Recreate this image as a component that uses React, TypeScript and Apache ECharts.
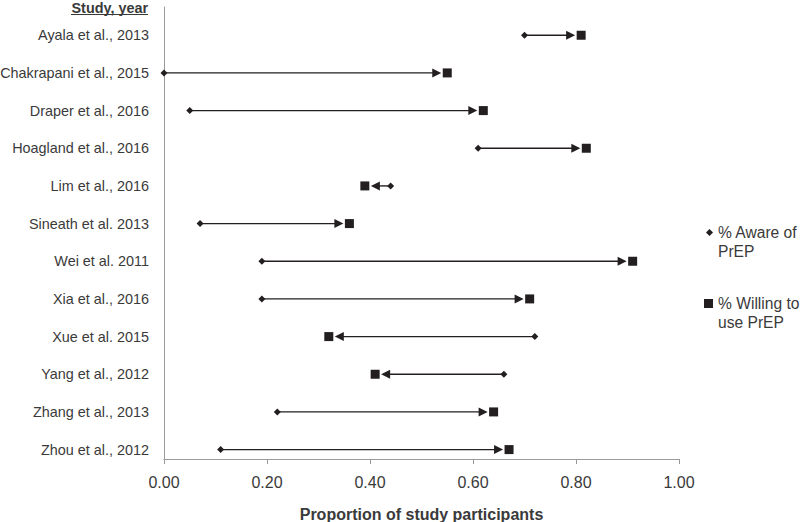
import React, { useEffect, useRef } from "react";
import * as echarts from "echarts";

const studies = [
  "Ayala et al., 2013",
  "Chakrapani et al., 2015",
  "Draper et al., 2016",
  "Hoagland et al., 2016",
  "Lim et al., 2016",
  "Sineath et al. 2013",
  "Wei et al. 2011",
  "Xia et al., 2016",
  "Xue et al. 2015",
  "Yang et al., 2012",
  "Zhang et al., 2013",
  "Zhou et al., 2012",
];
const aware = [0.70, 0.00, 0.05, 0.61, 0.44, 0.07, 0.19, 0.19, 0.72, 0.66, 0.22, 0.11];
const willing = [0.81, 0.55, 0.62, 0.82, 0.39, 0.36, 0.91, 0.71, 0.32, 0.41, 0.64, 0.67];
const awareName = "% Aware of PrEP";
const willingName = "% Willing to use PrEP";
const xTitle = "Proportion of study participants";
const yHeader = "Study, year";

const FONT = '"Liberation Sans", Arial, Helvetica, sans-serif';
const INK = "#231f20";
const TXT = "#3a3a3a";
const AXIS = "#9a9a9a";

export default function App() {
  const ref = useRef<HTMLDivElement>(null);
  useEffect(() => {
    if (!ref.current) return;
    const chart = echarts.init(ref.current, null, { renderer: "svg" });
    const idx = studies.map((_, i) => i);
    chart.setOption({
      animation: false,
      backgroundColor: "#ffffff",
      textStyle: { fontFamily: FONT },
      grid: { left: 164, right: 121, top: 7, bottom: 63, containLabel: false, outerBoundsMode: "none" },
      xAxis: {
        type: "value",
        min: 0,
        max: 1,
        interval: 0.2,
        axisLine: { show: true, onZero: false, lineStyle: { color: AXIS, width: 1 } },
        axisTick: { show: true, length: 5, lineStyle: { color: AXIS } },
        splitLine: { show: false },
        axisLabel: {
          margin: 15,
          fontSize: 16,
          color: TXT,
          fontFamily: FONT,
          formatter: (v: number) => v.toFixed(2),
        },
        name: xTitle,
        nameLocation: "middle",
        nameGap: 47,
        nameTextStyle: { fontSize: 16, fontWeight: "bold", color: TXT, fontFamily: FONT },
      },
      yAxis: {
        type: "value",
        inverse: true,
        min: -0.75,
        max: 11.25,
        axisLine: { show: true, onZero: false, lineStyle: { color: AXIS, width: 1 } },
        axisTick: { show: false },
        splitLine: { show: false },
        axisLabel: {
          customValues: idx,
          margin: 15,
          fontSize: 14.4,
          color: TXT,
          fontFamily: FONT,
          formatter: (v: number) => studies[Math.round(v)] ?? "",
        },
      },
      legend: [
        {
          data: [{ name: awareName, icon: "diamond" }],
          orient: "vertical",
          left: 701,
          top: 199,
          itemWidth: 7,
          itemHeight: 7,
          itemStyle: { opacity: 1 },
          formatter: () => "\n% Aware of\nPrEP",
          textStyle: { fontSize: 15.6, lineHeight: 19, color: TXT, fontFamily: FONT },
        },
        {
          data: [{ name: willingName, icon: "rect" }],
          orient: "vertical",
          left: 699,
          top: 270,
          itemWidth: 9,
          itemHeight: 9,
          itemStyle: { opacity: 1 },
          formatter: () => "\n% Willing to\nuse PrEP",
          textStyle: { fontSize: 15.6, lineHeight: 19, color: TXT, fontFamily: FONT },
        },
      ],
      series: [
        {
          type: "custom",
          name: "arrows",
          silent: true,
          data: idx.map((i) => [aware[i], willing[i], i]),
          encode: { x: [0, 1], y: 2 },
          renderItem: (params: any, api: any) => {
            const a = api.value(0);
            const w = api.value(1);
            const i = api.value(2);
            const p1 = api.coord([a, i]);
            const p2 = api.coord([w, i]);
            const dir = p2[0] >= p1[0] ? 1 : -1;
            const tip = p2[0] - dir * 6;
            const base = tip - dir * 9;
            const y = p1[1];
            return {
              type: "group",
              children: [
                {
                  type: "line",
                  shape: { x1: p1[0], y1: y, x2: base + dir * 1, y2: y },
                  style: { stroke: INK, lineWidth: 1.4 },
                },
                {
                  type: "polygon",
                  shape: { points: [[tip, y], [base, y - 4.5], [base, y + 4.5]] },
                  style: { fill: INK },
                },
              ],
            };
          },
          z: 1,
        },
        {
          type: "scatter",
          name: awareName,
          symbol: "diamond",
          symbolSize: 7,
          itemStyle: { color: INK, opacity: 1 },
          data: idx.map((i) => [aware[i], i]),
          z: 3,
        },
        {
          type: "scatter",
          name: willingName,
          symbol: "rect",
          symbolSize: 9,
          itemStyle: { color: INK, opacity: 1 },
          data: idx.map((i) => [willing[i], i]),
          z: 3,
        },
      ],
      graphic: [
        {
          type: "text",
          x: 148,
          y: 8,
          style: {
            text: yHeader,
            font: `bold 14.4px ${FONT}`,
            fill: TXT,
            textAlign: "right",
            textVerticalAlign: "middle",
          },
        },
        {
          type: "line",
          shape: { x1: 71, y1: 14.5, x2: 148, y2: 14.5 },
          style: { stroke: TXT, lineWidth: 1 },
        },
      ],
    });
    return () => chart.dispose();
  }, []);
  return <div ref={ref} style={{ width: 800, height: 522, position: "absolute", left: 0, top: 0 }} />;
}
